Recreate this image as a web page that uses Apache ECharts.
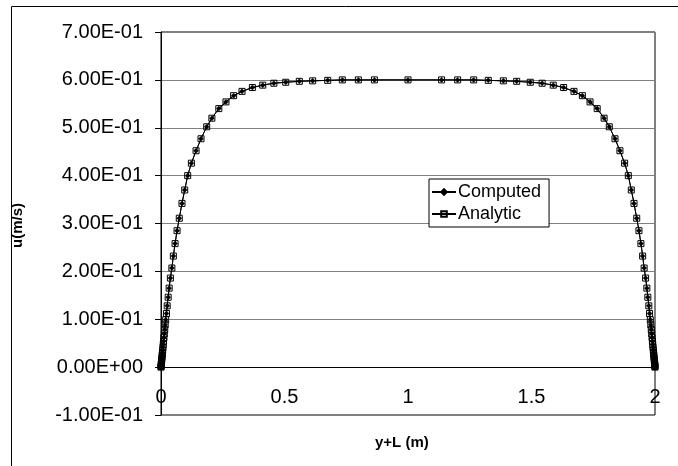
<!DOCTYPE html>
<html>
<head>
<meta charset="utf-8">
<script src="https://cdn.jsdelivr.net/npm/echarts@6/dist/echarts.min.js"></script>
<style>html,body{margin:0;padding:0;background:#fff}#c{width:678px;height:466px}</style>
</head>
<body>
<div id="c"></div>
<script>
// position y+L (m)
const yPlusL = [0, 0.0003, 0.0007, 0.0012, 0.0018, 0.0025, 0.0032, 0.0040, 0.0049, 0.0058,
  0.0068, 0.0079, 0.0091, 0.0104, 0.0118, 0.0134, 0.0151, 0.0170, 0.019, 0.022,
  0.025, 0.029, 0.033, 0.038, 0.044, 0.050, 0.057, 0.065, 0.074, 0.085,
  0.096, 0.108, 0.123, 0.142, 0.162, 0.185, 0.206, 0.234, 0.263, 0.294,
  0.328, 0.370, 0.412, 0.457, 0.505, 0.560, 0.614, 0.675, 0.734, 0.799,
  0.864, 1.000,
  1.136, 1.201, 1.266, 1.325, 1.386, 1.440, 1.495, 1.543, 1.588, 1.630,
  1.672, 1.706, 1.737, 1.766, 1.794, 1.815, 1.838, 1.858, 1.877, 1.892,
  1.904, 1.915, 1.926, 1.935, 1.943, 1.950, 1.956, 1.962, 1.967, 1.971,
  1.975, 1.978, 1.981, 1.9830, 1.9849, 1.9866, 1.9882, 1.9896, 1.9909, 1.9921,
  1.9932, 1.9942, 1.9951, 1.9960, 1.9968, 1.9975, 1.9982, 1.9988, 1.9993, 1.9997, 2.000];
// computed velocity u (m/s)
const computedU = [0, 0.0015, 0.0035, 0.0063, 0.0094, 0.0129, 0.0167, 0.0208, 0.0254, 0.0302,
  0.0354, 0.041, 0.0473, 0.0542, 0.0615, 0.0696, 0.0785, 0.0885, 0.099, 0.112,
  0.128, 0.146, 0.165, 0.186, 0.207, 0.232, 0.258, 0.285, 0.311, 0.342,
  0.370, 0.400, 0.426, 0.452, 0.477, 0.502, 0.520, 0.540, 0.554, 0.567,
  0.576, 0.584, 0.589, 0.593, 0.595, 0.597, 0.598, 0.599, 0.600, 0.600,
  0.600, 0.600,
  0.600, 0.600, 0.600, 0.599, 0.598, 0.597, 0.595, 0.593, 0.589, 0.584,
  0.576, 0.567, 0.554, 0.540, 0.520, 0.502, 0.477, 0.452, 0.426, 0.400,
  0.370, 0.342, 0.311, 0.285, 0.258, 0.232, 0.207, 0.186, 0.165, 0.146,
  0.128, 0.112, 0.099, 0.0885, 0.0785, 0.0696, 0.0615, 0.0542, 0.0473, 0.041,
  0.0354, 0.0302, 0.0254, 0.0208, 0.0167, 0.0129, 0.0094, 0.0063, 0.0035, 0.0015, 0];
// analytic velocity u (m/s)
const analyticU = [0, 0.0015, 0.0035, 0.0063, 0.0094, 0.0129, 0.0167, 0.0208, 0.0254, 0.0302,
  0.0354, 0.041, 0.0473, 0.0542, 0.0615, 0.0696, 0.0785, 0.0885, 0.099, 0.112,
  0.128, 0.146, 0.165, 0.186, 0.207, 0.232, 0.258, 0.285, 0.311, 0.342,
  0.370, 0.400, 0.426, 0.452, 0.477, 0.502, 0.520, 0.540, 0.554, 0.567,
  0.576, 0.584, 0.589, 0.593, 0.595, 0.597, 0.598, 0.599, 0.600, 0.600,
  0.600, 0.600,
  0.600, 0.600, 0.600, 0.599, 0.598, 0.597, 0.595, 0.593, 0.589, 0.584,
  0.576, 0.567, 0.554, 0.540, 0.520, 0.502, 0.477, 0.452, 0.426, 0.400,
  0.370, 0.342, 0.311, 0.285, 0.258, 0.232, 0.207, 0.186, 0.165, 0.146,
  0.128, 0.112, 0.099, 0.0885, 0.0785, 0.0696, 0.0615, 0.0542, 0.0473, 0.041,
  0.0354, 0.0302, 0.0254, 0.0208, 0.0167, 0.0129, 0.0094, 0.0063, 0.0035, 0.0015, 0];
const seriesNames = ['Computed', 'Analytic'];
const xTitle = 'y+L (m)';
const yTitle = 'u(m/s)';

function fmtE(v) {
  const s = Number(v).toExponential(2);
  return s.replace(/e([+-])(\d+)/, (m, sg, d) => 'E' + sg + (d.length < 2 ? '0' + d : d));
}
const F = 'Liberation Sans, Arial, sans-serif';
const chart = echarts.init(document.getElementById('c'), null, {renderer: 'canvas'});
chart.setOption({
  animation: false,
  backgroundColor: '#fff',
  graphic: [{
    type: 'rect', shape: {x: 11.5, y: 6.5, width: 700, height: 500},
    style: {fill: 'none', stroke: '#000', lineWidth: 1}, z: -1
  }, {
    type: 'text', left: 375, top: 435,
    style: {text: xTitle, font: 'bold 15px ' + F, fill: '#000'}
  }, {
    type: 'text', x: 10, y: 248, rotation: Math.PI / 2,
    style: {text: yTitle, font: 'bold 15px ' + F, fill: '#000'}
  }],
  grid: {left: 161, right: 23, top: 32, bottom: 51, show: true, borderColor: '#000', borderWidth: 1,
    backgroundColor: 'transparent', outerBoundsMode: 'none', containLabel: false},
  legend: {
    orient: 'vertical', left: 429, top: 179,
    data: seriesNames,
    backgroundColor: '#fff', borderColor: '#000', borderWidth: 1, borderRadius: 0,
    padding: [4, 8, 4, 2], itemGap: 4, itemWidth: 24, itemHeight: 7,
    textStyle: {fontFamily: F, fontSize: 18, color: '#000', padding: [0, 0, 0, -3]}
  },
  xAxis: {
    type: 'value', min: 0, max: 2, interval: 0.5,
    position: 'bottom', offset: -48,
    axisLine: {onZero: false, lineStyle: {color: '#000', width: 1}},
    axisTick: {show: false},
    axisLabel: {fontFamily: F, fontSize: 20, color: '#000', margin: 20, formatter: v => String(v)},
    splitLine: {show: false}
  },
  yAxis: {
    type: 'value', min: -0.1, max: 0.7, interval: 0.1,
    axisLine: {show: true, onZero: false, lineStyle: {color: '#000', width: 1}},
    axisTick: {show: true, inside: false, length: 6, lineStyle: {color: '#000'}},
    axisLabel: {fontFamily: F, fontSize: 20, color: '#000', margin: 18, formatter: fmtE},
    splitLine: {show: true, lineStyle: {color: '#808080', width: 1}}
  },
  series: [{
    name: seriesNames[0], type: 'line',
    data: yPlusL.map((x, i) => [x, computedU[i]]),
    symbol: 'diamond', symbolSize: 5, showSymbol: true,
    lineStyle: {color: '#000', width: 1},
    itemStyle: {color: '#000', borderColor: '#000', borderWidth: 0.5},
    z: 3
  }, {
    name: seriesNames[1], type: 'line',
    data: yPlusL.map((x, i) => [x, analyticU[i]]),
    symbol: 'rect', symbolSize: 6, showSymbol: true,
    lineStyle: {color: '#000', width: 1},
    itemStyle: {color: 'rgba(0,0,0,0)', borderColor: '#000', borderWidth: 1},
    z: 4
  }]
});
</script>
</body>
</html>
